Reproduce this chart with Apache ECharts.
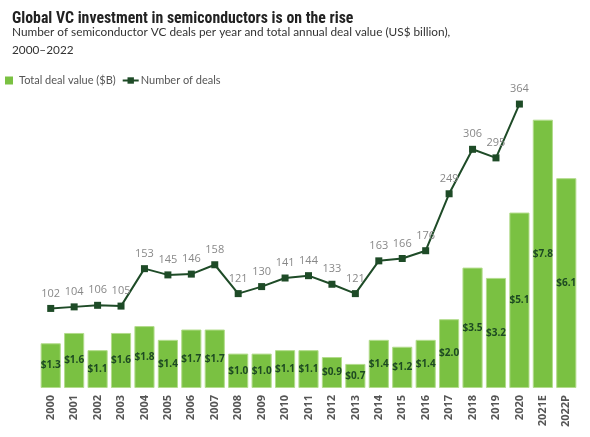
<!DOCTYPE html>
<html><head><meta charset="utf-8">
<script src="https://cdn.jsdelivr.net/npm/echarts@6/dist/echarts.min.js"></script>
<style>html,body{margin:0;padding:0;background:#fff}#c{width:590px;height:437px}</style>
</head><body><div id="c"></div>
<script>
const categories = ['2000','2001','2002','2003','2004','2005','2006','2007','2008','2009','2010','2011','2012','2013','2014','2015','2016','2017','2018','2019','2020','2021E','2022P'];
const dealValue = [1.3,1.6,1.1,1.6,1.8,1.4,1.7,1.7,1.0,1.0,1.1,1.1,0.9,0.7,1.4,1.2,1.4,2.0,3.5,3.2,5.1,7.8,6.1];
const dealCount = [102,104,106,105,153,145,146,158,121,130,141,144,133,121,163,166,176,249,306,295,364,null,null];

const chart = echarts.init(document.getElementById('c'));
chart.setOption({
  animation: false,
  title: [{
    text: 'Global VC investment in semiconductors is on the rise',
    left: 7, top: 6,
    textStyle: {fontFamily: "'Roboto Condensed', 'DejaVu Sans Condensed', Roboto, sans-serif", fontWeight: 'bold', fontSize: 15.8, color: '#222'}
  }, {
    text: 'Number of semiconductor VC deals per year and total annual deal value (US$ billion),\n2000–2022',
    left: 7, top: 18,
    textStyle: {fontFamily: 'Lato', fontWeight: 'normal', fontSize: 11.8, color: '#333', lineHeight: 18}
  }],
  legend: {
    left: 0, top: 70, itemGap: 6, itemWidth: 16, itemHeight: 8,
    textStyle: {fontFamily: 'Lato', fontSize: 11, color: '#555', padding: [0,0,0,-3]},
    data: [{name: 'Total deal value ($B)', icon: 'path://M0,0h8v8h-8z', itemStyle:{borderWidth:0}}, {name: 'Number of deals'}]
  },
  grid: {left: 39, right: 12, top: 44, bottom: 49},
  xAxis: {
    type: 'category', data: categories,
    axisLine: {show: false}, axisTick: {show: false},
    axisLabel: {rotate: 90, fontFamily: 'Open Sans', fontSize: 11, fontWeight: 'bold', color: '#555', margin: 7}
  },
  yAxis: [
    {type: 'value', min: 0, max: 10, show: false},
    {type: 'value', min: 0, max: 441, show: false}
  ],
  series: [{
    name: 'Total deal value ($B)', type: 'bar', yAxisIndex: 0, data: dealValue,
    barCategoryGap: '14%',
    itemStyle: {color: '#7ac142', borderColor: '#b3dc8c', borderWidth: 1},
    label: {show: true, position: 'inside', formatter: p => '$' + p.value.toFixed(1),
      fontFamily: 'Open Sans', fontSize: 10, fontWeight: 'bold', color: '#1d4a22'}
  }, {
    name: 'Number of deals', type: 'line', yAxisIndex: 1, data: dealCount,
    symbol: 'rect', symbolSize: 7,
    lineStyle: {color: '#1e4b27', width: 2},
    itemStyle: {color: '#1e4b27'},
    label: {show: true, position: 'top', distance: 6, fontFamily: 'Open Sans', fontSize: 11, color: '#888'}
  }]
});
</script></body></html>
